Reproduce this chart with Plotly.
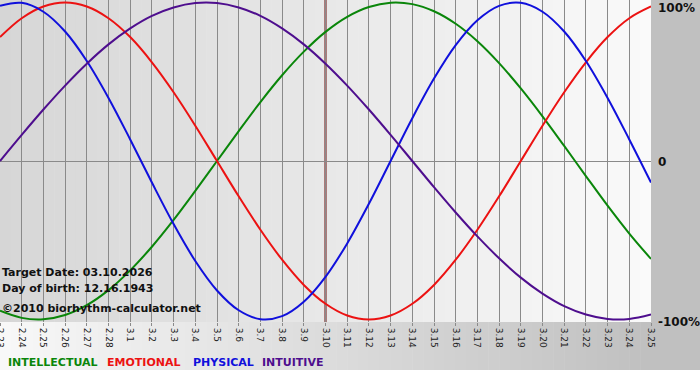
import plotly.graph_objects as go

# ---------------- data ----------------
days = ["2.23", "2.24", "2.25", "2.26", "2.27", "2.28",
        "3.1", "3.2", "3.3", "3.4", "3.5", "3.6", "3.7", "3.8", "3.9", "3.10",
        "3.11", "3.12", "3.13", "3.14", "3.15", "3.16", "3.17", "3.18", "3.19",
        "3.20", "3.21", "3.22", "3.23", "3.24", "3.25"]
target_day = "3.10"

intellectual = [-94.5, -99.0, -99.9, -97.2, -91.0, -81.5, -69.0, -54.1, -37.2, -18.9,
                0.0, 18.9, 37.2, 54.1, 69.0, 81.5, 91.0, 97.2, 99.9, 99.0,
                94.5, 86.6, 75.6, 61.8, 45.8, 28.2, 9.5, -9.5, -28.2, -45.8, -61.8]
emotional = [78.2, 90.1, 97.5, 100.0, 97.5, 90.1, 78.2, 62.3, 43.4, 22.3,
             0.0, -22.3, -43.4, -62.3, -78.2, -90.1, -97.5, -100.0, -97.5, -90.1,
             -78.2, -62.3, -43.4, -22.3, 0.0, 22.3, 43.4, 62.3, 78.2, 90.1, 97.5]
physical = [97.9, 99.8, 94.2, 81.7, 63.1, 39.8, 13.6, -13.6, -39.8, -63.1,
            -81.7, -94.2, -99.8, -97.9, -88.8, -73.1, -52.0, -27.0, 0.0, 27.0,
            52.0, 73.1, 88.8, 97.9, 99.8, 94.2, 81.7, 63.1, 39.8, 13.6, -13.6]
intuitive = [0.0, 16.5, 32.5, 47.6, 61.4, 73.6, 83.7, 91.6, 96.9, 99.7,
             99.7, 96.9, 91.6, 83.7, 73.6, 61.4, 47.6, 32.5, 16.5, 0.0,
             -16.5, -32.5, -47.6, -61.4, -73.6, -83.7, -91.6, -96.9, -99.7, -99.7, -96.9]

series_names = ["INTELLECTUAL", "EMOTIONAL", "PHYSICAL", "INTUITIVE"]
series_colors = ["#0a860a", "#ec1212", "#1010dc", "#4e0e8e"]
y_tick_vals = [100, 0, -100]
y_tick_text = ["100%", "0", "-100%"]
info_lines = ["Target Date: 03.10.2026", "Day of birth: 12.16.1943",
              "\u00a92010 biorhythm-calculator.net"]

# ---------------- layout helpers ----------------
W, H = 700, 380
PW, PH = 651, 322          # plot area size in pixels (plot starts at 0,0)


def px(x):
    return x / PW


def py(y):
    return (PH - y) / PH


def grey(v):
    v = int(round(v))
    return f"rgb({v},{v},{v})"


fig = go.Figure()
for name, vals, col in zip(series_names, [intellectual, emotional, physical, intuitive], series_colors):
    fig.add_trace(go.Scatter(x=days, y=vals, mode="lines", name=name,
                             line=dict(color=col, width=2, shape="spline"),
                             hoverinfo="skip"))

shapes = []
# plot background gradient (dark left -> light right)
n = 60
for k in range(n):
    x0 = PW * k / n
    x1 = PW * (k + 1) / n
    c = 214 + (250 - 214) * (k + 0.5) / n
    shapes.append(dict(type="rect", xref="paper", yref="paper", x0=px(x0), x1=px(x1 + 0.5),
                       y0=py(PH), y1=py(0), fillcolor=grey(c), line=dict(width=0), layer="below"))
# bottom strip gradient (light left -> grey right)
for k in range(n):
    x0 = PW * k / n
    x1 = PW * (k + 1) / n
    c = 248 + (192 - 248) * (k + 0.5) / n
    shapes.append(dict(type="rect", xref="paper", yref="paper", x0=px(x0), x1=px(x1 + 0.5),
                       y0=py(370), y1=py(PH), fillcolor=grey(c), line=dict(width=0), layer="below"))
# right grey panel
shapes.append(dict(type="rect", xref="paper", yref="paper", x0=px(PW), x1=px(W),
                   y0=py(370), y1=py(0), fillcolor="#c0c0c0", line=dict(width=0), layer="below"))
# target day marker (category axis -> use the category index)
target_idx = days.index(target_day)
shapes.append(dict(type="line", xref="x", yref="paper", x0=target_idx, x1=target_idx,
                   y0=0, y1=1, line=dict(color="#6e0c0c", width=2), layer="between"))

annotations = []
for lab, v, yp in zip(y_tick_text, y_tick_vals, [8, 162, 322]):
    annotations.append(dict(text=f"<b>{lab}</b>", xref="paper", yref="paper",
                            x=px(656), y=py(yp), xanchor="left", yanchor="middle",
                            showarrow=False, font=dict(family="DejaVu Sans", size=12, color="#111111")))
for txt, yp in zip(info_lines, [272, 288, 308]):
    annotations.append(dict(text=f"<b>{txt}</b>", xref="paper", yref="paper",
                            x=px(0), y=py(yp), xanchor="left", yanchor="middle",
                            showarrow=False, font=dict(family="DejaVu Sans", size=11, color="#111111")))
for name, col, xp in zip(series_names, series_colors, [6, 105, 191, 260]):
    annotations.append(dict(text=f"<b>{name}</b>", xref="paper", yref="paper",
                            x=px(xp), y=py(362), xanchor="left", yanchor="middle",
                            showarrow=False, font=dict(family="DejaVu Sans", size=11, color=col)))

fig.update_layout(
    width=W, height=H,
    margin=dict(l=0, r=W - PW, t=0, b=H - PH, pad=0),
    paper_bgcolor="#ffffff", plot_bgcolor="rgba(0,0,0,0)",
    showlegend=False, template="none",
    shapes=shapes, annotations=annotations,
    xaxis=dict(type="category", range=[0, len(days) - 1], tickmode="array",
               tickvals=days, ticktext=days, tickangle=90,
               showgrid=True, gridcolor="#8a8a8a", gridwidth=1,
               ticks="outside", ticklen=3, tickcolor="#8a8a8a", tickwidth=1,
               showline=False, zeroline=False, automargin=False,
               tickfont=dict(family="DejaVu Sans", size=9, color="#222222")),
    yaxis=dict(range=[-101.6, 101.6], side="right", showgrid=False,
               zeroline=True, zerolinecolor="#8a8a8a", zerolinewidth=1,
               showticklabels=False, ticks="", showline=False, automargin=False),
)

fig.write_html("out.html")
